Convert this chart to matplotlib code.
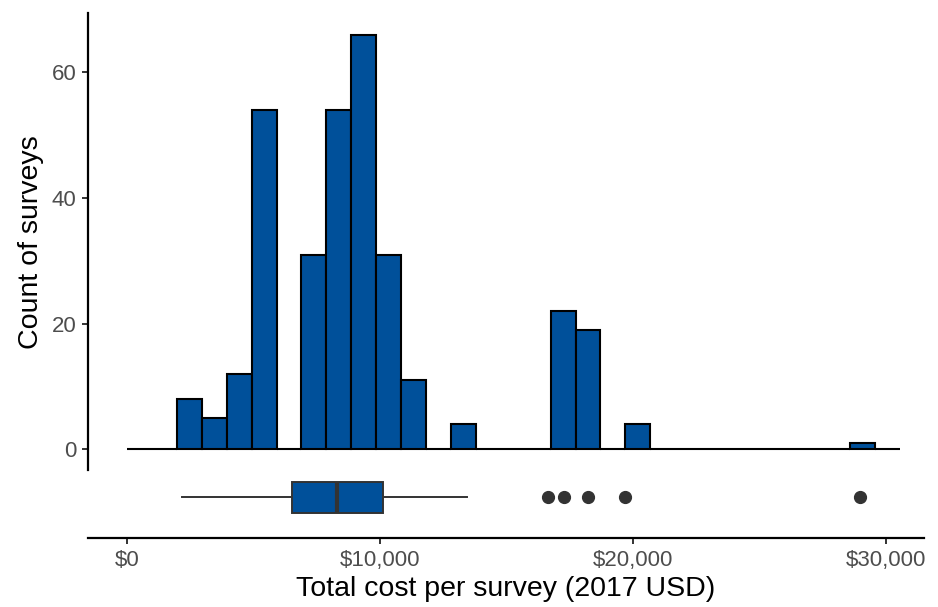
import numpy as np
import matplotlib
matplotlib.use('Agg')
import matplotlib.pyplot as plt
from matplotlib.ticker import FuncFormatter

plt.rcParams['font.family'] = ['Liberation Sans', 'DejaVu Sans']

# histogram: 31 bins of ~985 USD starting at $0
bin_width = 985
counts = [0, 0, 8, 5, 12, 54, 0, 31, 54, 66, 31, 11, 0, 4, 0, 0, 0,
          22, 19, 0, 4, 0, 0, 0, 0, 0, 0, 0, 0, 1, 0]

# boxplot summary of the same costs
box_stats = {'whislo': 2160, 'q1': 6530, 'med': 8290, 'q3': 10130, 'whishi': 13450}
outliers = [16630, 17290, 18210, 19700, 28970]

x_ticks = [0, 10000, 20000, 30000]
y_ticks = [0, 20, 40, 60]

fill = '#00509A'
grey = '#333333'

fig = plt.figure(figsize=(9.38, 6.07), dpi=100)
ax = fig.add_axes([88 / 938, 1 - 537.7 / 607, (924 - 88) / 938, (537.7 - 13.3) / 607])

edges = np.arange(len(counts)) * bin_width
ax.bar(edges, counts, width=bin_width, align='edge', color=fill,
       edgecolor='black', linewidth=1.5, zorder=3)

stats = dict(box_stats, fliers=outliers)
ax.bxp([stats], positions=[-7.64], widths=4.9, vert=False, patch_artist=True,
       showcaps=False, manage_ticks=False,
       boxprops=dict(facecolor=fill, edgecolor=grey, linewidth=1.4),
       whiskerprops=dict(color=grey, linewidth=1.4),
       medianprops=dict(color=grey, linewidth=3),
       flierprops=dict(marker='o', markerfacecolor=grey, markeredgecolor=grey,
                       markersize=8.5))

ax.set_xlim(-1541, 31502)
ax.set_ylim(-14.08, 69.4)

for s in ['top', 'right']:
    ax.spines[s].set_visible(False)
ax.spines['left'].set_bounds(-3.3, 69.4)
ax.spines['left'].set_linewidth(1.6)
ax.spines['bottom'].set_linewidth(1.6)

ax.set_xticks(x_ticks)
ax.set_yticks(y_ticks)
ax.xaxis.set_major_formatter(FuncFormatter(lambda v, p: '${:,.0f}'.format(v)))
ax.tick_params(axis='both', labelsize=16, labelcolor='#4D4D4D', color=grey,
               width=1.4, length=4.5, pad=4)

ax.set_xlabel('Total cost per survey (2017 USD)', fontsize=20.5, labelpad=4)
ax.set_ylabel('Count of surveys', fontsize=20.5)
# label centred on the histogram part only
ax.yaxis.set_label_coords(-0.053, 0.564)

fig.savefig('out.png', dpi=100)
